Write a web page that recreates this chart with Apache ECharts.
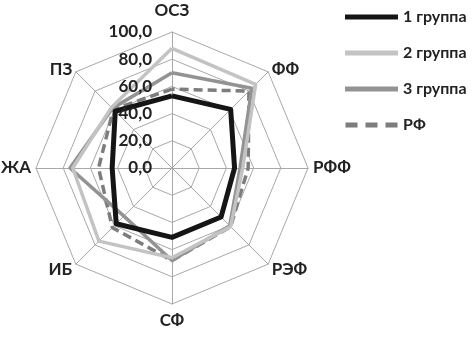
<!DOCTYPE html>
<html><head><meta charset="utf-8">
<script src="https://cdn.jsdelivr.net/npm/echarts@6/dist/echarts.min.js"></script>
<style>html,body{margin:0;padding:0;background:#fff}#c{width:475px;height:339px}</style>
</head><body><div id="c"></div>
<script>
// axes in clockwise order starting at top
var categories = ['ОСЗ', 'ФФ', 'РФФ', 'РЭФ', 'СФ', 'ИБ', 'ЖА', 'ПЗ'];
var seriesNames = ['1 группа', '2 группа', '3 группа', 'РФ'];
var group1 = [53, 61, 46, 51, 51, 58, 44, 59];
var group2 = [88, 87, 52, 61, 66, 76, 73, 63];
var group3 = [70, 83, 50, 60, 68, 50, 75, 62];
var rf     = [58, 80, 56, 61, 68, 62, 54, 61];
var tickValues = [0, 20, 40, 60, 80, 100];
var tickLabels = ['0,0', '20,0', '40,0', '60,0', '80,0', '100,0'];

// ECharts radar runs counter-clockwise: reorder so the picture runs clockwise
function ccw(arr) { var out = [arr[0]]; for (var i = arr.length - 1; i > 0; i--) out.push(arr[i]); return out; }

var font = 'Lato, "Noto Sans", sans-serif';
var txt = '#222';
var chart = echarts.init(document.getElementById('c'), null, {renderer: 'canvas'});
var colors = ['#151515', '#c3c3c3', '#939393', '#7d7d7d'];
var widths = [5, 3.5, 3.5, 3.5];
var datas = [group1, group2, group3, rf];

chart.setOption({
  animation: false,
  radar: {
    center: [172, 168],
    radius: 136,
    shape: 'polygon',
    splitNumber: 5,
    indicator: ccw(categories).map(function (n) { return {name: n, min: 0, max: 100}; }),
    axisName: {
      color: txt, fontSize: 17, fontWeight: 'bold', fontFamily: font,
      formatter: function (n) {
        if (n === categories[0]) return '{t|' + n + '}';
        if (n === categories[2] || n === categories[6]) return n;
        return '{d|' + n + '}';
      },
      rich: {
        t: {fontSize: 17, fontWeight: 'bold', fontFamily: font, color: txt, padding: [0, 0, 8, 0]},
        d: {fontSize: 17, fontWeight: 'bold', fontFamily: font, color: txt, padding: [3, 0, 0, 0]}
      }
    },
    nameGap: 5,
    splitLine: {lineStyle: {color: '#a8a8a8', width: 1}},
    splitArea: {show: false},
    axisLine: {lineStyle: {color: '#a8a8a8', width: 1}},
    axisLabel: {show: false}
  },
  polar: {center: [172, 168], radius: 136},
  angleAxis: {show: false, startAngle: 90, type: 'value', min: 0, max: 360},
  radiusAxis: {
    type: 'value', min: tickValues[0], max: tickValues[tickValues.length - 1], interval: 20,
    z: 20,
    axisLine: {show: false}, axisTick: {show: false}, splitLine: {show: false},
    axisLabel: {
      show: true, margin: 20, color: txt, fontSize: 17, fontWeight: 'bold', fontFamily: font,
      formatter: function (v) { return tickLabels[tickValues.indexOf(v)]; }
    }
  },
  legend: {
    orient: 'vertical', left: 340, top: 4, itemWidth: 53, itemHeight: 5, itemGap: 20,
    textStyle: {color: txt, fontSize: 16, fontWeight: 'bold', fontFamily: font},
    data: seriesNames.map(function (n, i) {
      return {name: n, icon: i === 3 ? 'path://M0,0h12v5h-12z M20,0h12v5h-12z M40,0h12v5h-12z' : 'rect'};
    })
  },
  series: datas.map(function (d, i) {
    return {
      type: 'radar', name: seriesNames[i], symbol: 'none',
      itemStyle: {color: colors[i]},
      lineStyle: {color: colors[i], width: widths[i], type: i === 3 ? [9, 5] : 'solid'},
      data: [{name: seriesNames[i], value: ccw(d)}],
      z: 10 - i
    };
  })
});
</script></body></html>
